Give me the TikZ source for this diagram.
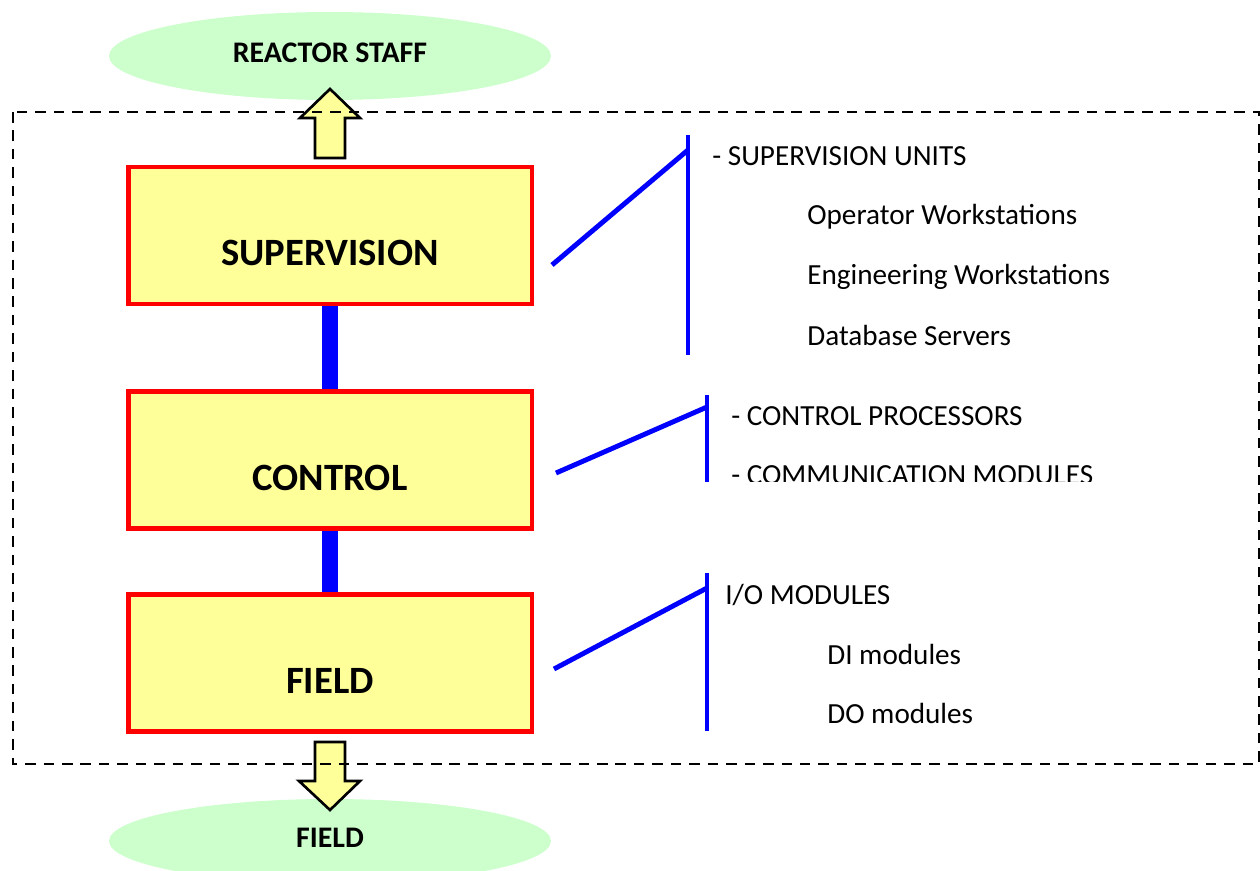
\documentclass[tikz,border=0pt]{standalone}
\usepackage{fontspec}
\setmainfont{Carlito}
\usetikzlibrary{shapes.geometric}

\definecolor{padyellow}{HTML}{FFFF99}
\definecolor{palegreen}{HTML}{CCFFCC}

\begin{document}
\begin{tikzpicture}[x=0.02cm, y=-0.02cm,
  layer/.style={draw=red, line width=2.8pt, fill=padyellow, inner sep=0pt,
    minimum width=8.08cm, minimum height=2.74cm, text height=34.6pt, text depth=0pt,
    font=\fontsize{22}{26}\selectfont\bfseries},
  outside/.style={ellipse, fill=palegreen, inner sep=0pt, text height=7pt, text depth=0pt,
    minimum width=8.84cm, minimum height=1.76cm, font=\fontsize{17}{20}\selectfont\bfseries},
  bus/.style={blue, line width=9.6pt},
  tie/.style={blue, line width=2.8pt},
  item/.style={anchor=base west, inner sep=0pt, font=\fontsize{16.6}{19}\selectfont},
  fatarrow/.style={draw=black, line width=1.5pt, fill=padyellow, line join=miter}]

  \useasboundingbox (0,0) rectangle (1260,871);

  \node[outside] (staff) at (330,56) {REACTOR STAFF};
  \node[outside, minimum height=1.68cm] (plant) at (330,841) {FIELD};

  \draw[fatarrow] (315,158) -- (315,118) -- (300,118) -- (330,89)
    -- (360,118) -- (345,118) -- (345,158) -- cycle;
  \draw[fatarrow] (315,742) -- (345,742) -- (345,781) -- (360,781)
    -- (330,810) -- (299,781) -- (315,781) -- cycle;

  \draw[line width=1.5pt, dash pattern=on 6pt off 4.5pt] (13,112) rectangle (1259,764);

  \node[layer] (sup) at (330,235.5) {SUPERVISION};
  \node[layer] (ctl) at (330,460) {CONTROL};
  \node[layer] (fld) at (330,663) {FIELD};

  \draw[bus] (sup) -- (ctl);
  \draw[bus] (ctl) -- (fld);

  % supervision units
  \coordinate (supfoot) at (552,265);
  \coordinate (supknee) at (688,150);
  \coordinate (suptop) at (688,135);
  \coordinate (supend) at (688,355);
  \draw[tie] (supfoot) -- (supknee);
  \draw[tie] (suptop) -- (supend);
  \node[item] (supunits) at (712,166) {- SUPERVISION UNITS};
  \node[item] (opws) at (807,225) {Operator Workstations};
  \node[item] (engws) at (807,285) {Engineering Workstations};
  \node[item] (dbsrv) at (807,345) {Database Servers};

  % control processors
  \coordinate (ctlfoot) at (556,473);
  \coordinate (ctlknee) at (707,407);
  \coordinate (ctltop) at (707,395);
  \coordinate (ctlend) at (707,482);
  \draw[tie] (ctlfoot) -- (ctlknee);
  \draw[tie] (ctltop) -- (ctlend);
  \node[item] (cpu) at (731,425) {- CONTROL PROCESSORS};
  \begin{scope}
    \clip (715,440) rectangle (1260,481);
    \node[item] (comm) at (731,484) {- COMMUNICATION MODULES};
  \end{scope}

  % field modules
  \coordinate (fldfoot) at (554,669);
  \coordinate (fldknee) at (707,588);
  \coordinate (fldtop) at (707,573);
  \coordinate (fldend) at (707,731);
  \draw[tie] (fldfoot) -- (fldknee);
  \draw[tie] (fldtop) -- (fldend);
  \node[item] (iomod) at (725,604) {I/O MODULES};
  \node[item] (dimod) at (827,664) {DI modules};
  \node[item] (domod) at (827,723) {DO modules};
\end{tikzpicture}
\end{document}
